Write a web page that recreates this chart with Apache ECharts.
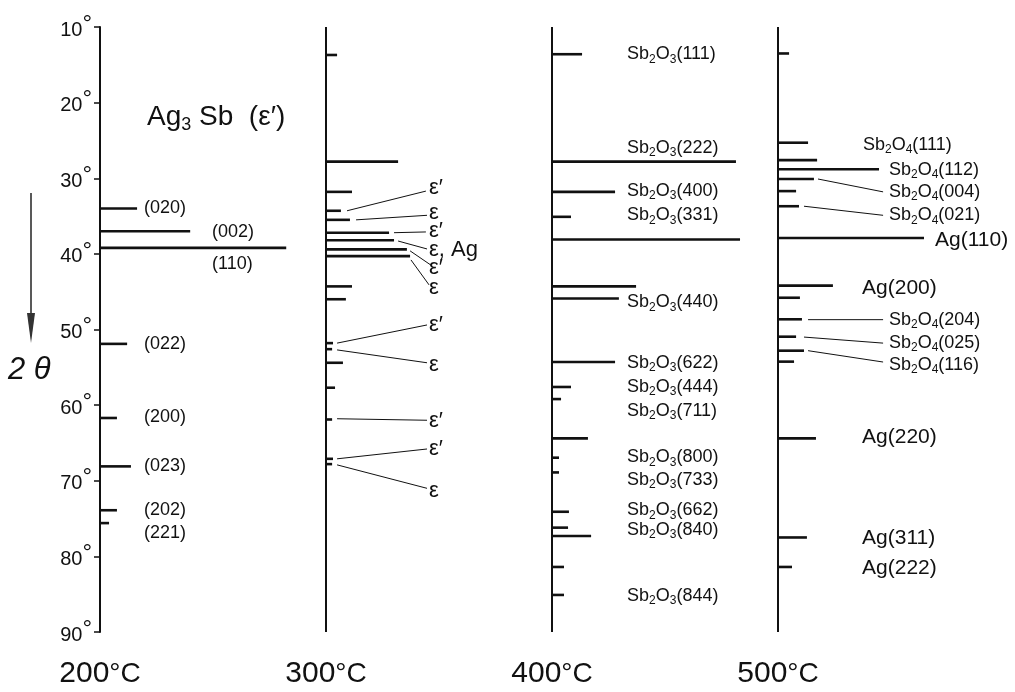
<!DOCTYPE html>
<html>
<head>
<meta charset="utf-8">
<script src="https://cdn.jsdelivr.net/npm/echarts@6/dist/echarts.min.js"></script>
<style>
  html, body { margin: 0; padding: 0; background: #fff; }
  #chart { width: 1015px; height: 692px; }
</style>
</head>
<body>
<div id="chart"></div>
<script>
// ---------------- DATA ----------------
// temperature columns (°C)
const temps = [200, 300, 400, 500];
// 2θ axis ticks
const thetaTicks = [10, 20, 30, 40, 50, 60, 70, 80, 90];

// peaks: [2θ (deg), relative intensity (in column units)]
const peaks200 = [[34.0,16.4],[37.0,39.9],[39.2,82.4],[51.9,12.0],[61.7,7.5],[68.1,13.7],[73.9,7.5],[75.6,4.0]];
const peaks300 = [[13.7,4.9],[27.8,31.9],[31.8,11.5],[34.3,6.6],[35.5,10.6],[37.2,27.9],[38.2,30.1],[39.4,35.8],[40.3,37.2],
                  [44.3,11.5],[46.0,8.8],[51.8,3.1],[52.6,2.7],[54.4,7.5],[57.7,4.0],[61.9,2.7],[67.1,3.1],[67.8,2.7]];
const peaks400 = [[13.6,13.3],[27.8,81.4],[31.8,27.9],[35.1,8.4],[38.1,83.2],[44.3,37.2],[45.9,29.6],[54.3,27.9],[57.6,8.4],
                  [59.2,4.0],[64.4,15.9],[66.95,3.1],[68.9,3.1],[74.1,7.5],[76.2,7.1],[77.3,17.3],[81.4,5.3],[85.1,5.3]];
const peaks500 = [[13.5,4.9],[25.3,13.3],[27.6,17.3],[28.8,44.7],[30.1,15.9],[31.7,8.0],[33.7,9.3],[37.9,64.6],[44.2,24.3],
                  [45.8,9.7],[48.65,10.6],[50.95,8.0],[52.8,11.5],[54.25,7.1],[64.4,16.8],[77.5,12.8],[81.4,6.2]];

// labels (text, "_n" = subscript)
const head200Text = 'Ag_3 Sb  (ε′)';
const hkl200Text = ['(020)','(002)','(110)','(022)','(200)','(023)','(202)','(221)'];
const eps300Text = ['ε′','ε','ε′','ε, Ag','ε′','ε','ε′','ε','ε′','ε′','ε'];
const sb400Text = ['Sb_2O_3(111)','Sb_2O_3(222)','Sb_2O_3(400)','Sb_2O_3(331)','Sb_2O_3(440)','Sb_2O_3(622)','Sb_2O_3(444)',
                   'Sb_2O_3(711)','Sb_2O_3(800)','Sb_2O_3(733)','Sb_2O_3(662)','Sb_2O_3(840)','Sb_2O_3(844)'];
const sb500Text = ['Sb_2O_4(111)','Sb_2O_4(112)','Sb_2O_4(004)','Sb_2O_4(021)','Sb_2O_4(204)','Sb_2O_4(025)','Sb_2O_4(116)'];
const ag500Text = ['Ag(110)','Ag(200)','Ag(220)','Ag(311)','Ag(222)'];

// ------------- ANNOTATION ANCHORS (data units: [x, 2θ]) -------------
const head200At = [220.8, 22.0];
const hkl200At = [[219.5,33.9],[249.6,37.1],[249.6,41.3],[219.5,51.9],[219.5,61.6],[219.5,68.05],[219.5,73.9],[219.5,76.9]];
const eps300At = [[345.6,31.3],[345.6,34.6],[345.6,37.0],[345.6,39.5],[345.6,41.9],[345.6,44.5],[345.6,49.4],[345.6,54.7],[345.6,62.1],[345.6,65.8],[345.6,71.4]];
const sb400At = [[433.2,13.6],[433.2,26.0],[433.2,31.7],[433.2,34.9],[433.2,46.4],[433.2,54.4],[433.2,57.6],[433.2,60.8],[433.2,66.9],[433.2,69.9],[433.2,73.9],[433.2,76.5],[433.2,85.2]];
const sb500At = [[537.6,25.6],[549.1,28.9],[549.1,31.8],[549.1,34.9],[549.1,48.7],[549.1,51.8],[549.1,54.7]];
const ag500At = [[569.5,38.2],[537.2,44.5],[537.2,64.3],[537.2,77.6],[537.2,81.5]];
// leader lines [x1, 2θ1, x2, 2θ2]
const leaders = [
  [309.3,34.3,344.2,31.7],[313.3,35.5,344.7,34.9],[330.1,37.2,344.2,37.1],[331.9,38.3,344.7,39.35],
  [337.2,39.6,346.5,41.5],[337.6,40.8,345.6,44.1],[304.9,51.8,344.7,49.4],[304.9,52.7,344.7,54.4],
  [304.9,61.8,344.7,62.0],[304.9,67.1,344.7,65.8],[304.9,67.9,344.7,71.0],
  [517.7,30.1,546.5,31.8],[511.5,33.7,546.5,34.9],[513.3,48.7,546.5,48.7],[511.5,51.0,546.5,51.8],[513.3,52.8,546.5,54.3]
];

// ---------------- CHART ----------------
const FONT = 'Liberation Sans, Arial, sans-serif';
const INK = '#111';
const chart = echarts.init(document.getElementById('chart'), null, {renderer: 'canvas'});

function richify(s) {
  let out = '', buf = '';
  for (let i = 0; i < s.length; i++) {
    if (s[i] === '_' && i + 1 < s.length) {
      if (buf) { out += '{n|' + buf + '}'; buf = ''; }
      out += '{s|' + s[i + 1] + '}';
      i++;
    } else buf += s[i];
  }
  if (buf) out += '{n|' + buf + '}';
  return out;
}

const peakData = [];
[peaks200, peaks300, peaks400, peaks500].forEach((arr, k) => {
  arr.forEach(p => peakData.push([temps[k], p[0], p[1]]));
});

function labelSeries(texts, anchors, size, subSize) {
  return {
    type: 'custom', silent: true, animation: false, clip: false,
    data: texts.map((t, i) => [anchors[i][0], anchors[i][1], t]),
    renderItem: function (params, api) {
      const p = api.coord([api.value(0), api.value(1)]);
      const t = texts[params.dataIndex];
      return {
        type: 'text', x: p[0], y: p[1],
        style: {
          text: richify(t), align: 'left', verticalAlign: 'middle', fill: INK,
          fontFamily: FONT, fontSize: size,
          rich: {
            n: {fontSize: size, lineHeight: size + 4, fontFamily: FONT, fill: INK},
            s: {fontSize: subSize, lineHeight: subSize, verticalAlign: 'bottom', fontFamily: FONT, fill: INK}
          }
        }
      };
    }
  };
}

const ymin = thetaTicks[0], ymax = thetaTicks[thetaTicks.length - 1];

const option = {
  backgroundColor: '#fff',
  animation: false,
  grid: {left: 100, right: 11, top: 27, bottom: 60},
  xAxis: {
    type: 'value', min: 200, max: 600, interval: 100,
    axisLine: {show: false}, axisTick: {show: false}, splitLine: {show: false},
    axisLabel: {
      margin: 27, color: INK,
      formatter: v => (temps.indexOf(v) >= 0 ? '{n|' + v + '}{d|°C}' : ''),
      rich: {
        n: {fontSize: 30, fontFamily: FONT, color: INK},
        d: {fontSize: 28, fontFamily: FONT, color: INK}
      }
    }
  },
  yAxis: {
    type: 'value', inverse: true, min: ymin, max: ymax, interval: 10,
    axisLine: {show: true, lineStyle: {color: INK, width: 2}},
    axisTick: {show: true, inside: false, length: 6, lineStyle: {color: INK, width: 1.5}},
    splitLine: {show: false},
    axisLabel: {
      margin: 8, color: INK, fontSize: 20, fontFamily: FONT,
      formatter: v => '{n|' + v + '}{d|°}',
      rich: {
        n: {fontSize: 20, lineHeight: 30, fontFamily: FONT, color: INK, padding: [6, 0, 0, 0]},
        d: {fontSize: 24, lineHeight: 22, verticalAlign: 'top', fontFamily: FONT, color: INK}
      }
    }
  },
  graphic: [
    {type: 'line', shape: {x1: 31, y1: 193, x2: 31, y2: 325}, style: {stroke: '#222', lineWidth: 1.5}},
    {type: 'polygon', shape: {points: [[27, 313], [35, 313], [31, 343]]}, style: {fill: '#333'}},
    {type: 'text', x: 8, y: 370, style: {text: '2 θ', fontSize: 31, fontStyle: 'italic', fontFamily: FONT, fill: INK, verticalAlign: 'middle'}}
  ],
  series: [
    { // baselines for 300, 400, 500 °C
      type: 'custom', silent: true, animation: false,
      data: temps.slice(1).map(t => [t]),
      renderItem: function (params, api) {
        const a = api.coord([api.value(0), ymin]);
        const b = api.coord([api.value(0), ymax]);
        return {type: 'line', shape: {x1: a[0], y1: a[1], x2: b[0], y2: b[1]}, style: {stroke: INK, lineWidth: 2}};
      }
    },
    { // diffraction peaks
      type: 'custom', silent: true, animation: false,
      data: peakData,
      renderItem: function (params, api) {
        const a = api.coord([api.value(0), api.value(1)]);
        const b = api.coord([api.value(0) + api.value(2), api.value(1)]);
        return {type: 'line', shape: {x1: a[0], y1: a[1], x2: b[0], y2: b[1]}, style: {stroke: INK, lineWidth: 2.6}};
      }
    },
    { // leader lines
      type: 'custom', silent: true, animation: false,
      data: leaders,
      renderItem: function (params, api) {
        const a = api.coord([api.value(0), api.value(1)]);
        const b = api.coord([api.value(2), api.value(3)]);
        return {type: 'line', shape: {x1: a[0], y1: a[1], x2: b[0], y2: b[1]}, style: {stroke: INK, lineWidth: 1}};
      }
    },
    labelSeries([head200Text], [head200At], 28, 18),
    labelSeries(hkl200Text, hkl200At, 18, 12),
    labelSeries(eps300Text, eps300At, 22, 14),
    labelSeries(sb400Text, sb400At, 18, 12),
    labelSeries(sb500Text, sb500At, 18, 12),
    labelSeries(ag500Text, ag500At, 21, 14)
  ]
};
chart.setOption(option);
</script>
</body>
</html>
